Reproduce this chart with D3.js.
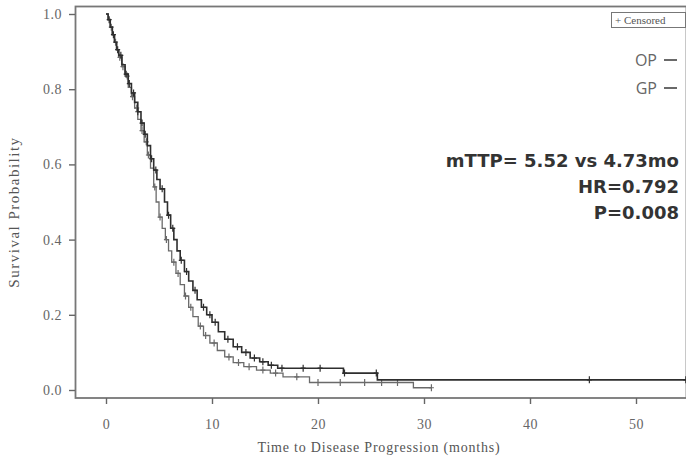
<!DOCTYPE html>
<html>
<head>
<meta charset="utf-8">
<script src="https://cdn.jsdelivr.net/npm/d3@7"></script>
<style>
  body { margin: 0; background: #fff; }
  svg { display: block; }
</style>
</head>
<body>
<svg id="chart" width="686" height="459"></svg>
<script>
// Kaplan-Meier steps: [time in months, survival after the drop]
const opSteps = [
  [0, 1.0], [0.2, 0.985], [0.4, 0.965], [0.6, 0.945], [0.8, 0.925], [1.0, 0.905],
  [1.2, 0.89], [1.5, 0.865], [1.8, 0.84], [2.1, 0.815], [2.4, 0.79], [2.7, 0.765],
  [3.0, 0.74], [3.3, 0.71], [3.6, 0.68], [3.9, 0.65], [4.2, 0.615], [4.5, 0.585],
  [4.8, 0.56], [5.1, 0.535], [5.52, 0.50], [5.8, 0.465], [6.1, 0.43], [6.4, 0.40],
  [6.7, 0.37], [7.0, 0.345], [7.4, 0.315], [7.8, 0.29], [8.2, 0.265], [8.6, 0.24],
  [9.0, 0.22], [9.5, 0.20], [10.0, 0.18], [10.6, 0.155], [11.2, 0.135],
  [12.0, 0.115], [12.8, 0.10], [13.6, 0.085], [14.5, 0.075], [15.3, 0.066],
  [16.2, 0.058], [22.4, 0.045], [25.6, 0.027]
];
const gpSteps = [
  [0, 1.0], [0.2, 0.985], [0.4, 0.965], [0.6, 0.945], [0.8, 0.925], [1.0, 0.905],
  [1.2, 0.885], [1.5, 0.86], [1.8, 0.835], [2.1, 0.805], [2.4, 0.78], [2.7, 0.75],
  [3.0, 0.72], [3.3, 0.69], [3.6, 0.66], [3.9, 0.625], [4.2, 0.59], [4.5, 0.54],
  [4.73, 0.50], [5.0, 0.46], [5.3, 0.43], [5.6, 0.40], [5.9, 0.37], [6.2, 0.34],
  [6.6, 0.31], [7.0, 0.28], [7.4, 0.25], [7.8, 0.22], [8.2, 0.195], [8.7, 0.17],
  [9.2, 0.145], [9.8, 0.125], [10.5, 0.105], [11.2, 0.088], [12.0, 0.073],
  [13.0, 0.062], [14.2, 0.053], [15.5, 0.045], [16.7, 0.035], [19.2, 0.02],
  [29.0, 0.006]
];
const opEnd = 54.7, gpEnd = 30.7;
const opCensored = [0.3, 0.7, 1.1, 1.4, 1.9, 2.2, 2.6, 3.0, 3.4, 3.7, 4.3, 4.7,
  5.3, 5.9, 6.3, 7.1, 7.6, 8.4, 9.2, 9.8, 10.3, 11.5, 12.4, 13.2, 14.0, 14.8,
  15.6, 16.6, 18.6, 20.2, 22.5, 25.5, 45.6, 54.7];
const gpCensored = [0.5, 0.9, 1.3, 1.6, 2.0, 2.5, 2.9, 3.4, 3.8, 4.0, 4.6, 5.1,
  5.7, 6.4, 6.8, 7.5, 8.0, 8.9, 9.4, 10.2, 11.6, 12.5, 13.5, 14.8, 16.0, 18.0,
  20.0, 22.1, 24.4, 26.0, 27.5, 30.7];
const xTicks = [0, 10, 20, 30, 40, 50];
const yTicks = [0, 0.2, 0.4, 0.6, 0.8, 1.0];
const statLines = ["mTTP= 5.52 vs 4.73mo", "HR=0.792", "P=0.008"];

const svg = d3.select("#chart");
const x = d3.scaleLinear().domain([0, 50]).range([106, 636]);
const y = d3.scaleLinear().domain([0, 1]).range([390, 14]);

// frame
svg.append("rect")
  .attr("x", 75.5).attr("y", 6.5).attr("width", 611).attr("height", 391.5)
  .attr("fill", "none").attr("stroke", "#777").attr("stroke-width", 1.8);

// axes
const serif = "'Liberation Serif', 'DejaVu Serif', serif";
const xAxis = svg.append("g").attr("transform", "translate(0,398)")
  .call(d3.axisBottom(x).tickValues(xTicks).tickSize(6).tickPadding(15).tickFormat(d3.format("d")));
const yAxis = svg.append("g").attr("transform", "translate(75,0)")
  .call(d3.axisLeft(y).tickValues(yTicks).tickSize(6).tickPadding(7).tickFormat(d3.format(".1f")));
[xAxis, yAxis].forEach(g => {
  g.select(".domain").remove();
  g.selectAll("line").attr("stroke", "#666").attr("stroke-width", 1.4);
  g.selectAll("text").attr("fill", "#666").style("font-family", serif)
    .style("font-size", "14px").style("letter-spacing", "0.5px");
});

svg.append("text").attr("x", 379).attr("y", 452).attr("text-anchor", "middle")
  .style("font-family", serif).style("font-size", "14px").style("letter-spacing", "0.8px")
  .attr("fill", "#555")
  .text("Time to Disease Progression (months)");
svg.append("text").attr("transform", "translate(19,212) rotate(-90)")
  .attr("text-anchor", "middle")
  .style("font-family", serif).style("font-size", "15px").style("letter-spacing", "1.5px")
  .attr("fill", "#555")
  .text("Survival Probability");

// curves
const line = d3.line().x(d => x(d[0])).y(d => y(d[1])).curve(d3.curveStepAfter);
function survAt(steps, t) {
  const i = d3.bisector(d => d[0]).right(steps, t) - 1;
  return steps[Math.max(0, i)][1];
}
function drawArm(steps, end, censored, color, width) {
  const pts = steps.concat([[end, steps[steps.length - 1][1]]]);
  svg.append("path").datum(pts).attr("d", line)
    .attr("fill", "none").attr("stroke", color).attr("stroke-width", width);
  svg.append("g").selectAll("path").data(censored).join("path")
    .attr("d", t => {
      const cx = x(t), cy = y(survAt(steps, t));
      return `M${cx - 2.5},${cy}H${cx + 2.5}M${cx},${cy - 3.5}V${cy + 3.5}`;
    })
    .attr("stroke", color).attr("stroke-width", 1.2);
}
drawArm(gpSteps, gpEnd, gpCensored, "#6a6a6a", 1.3);
drawArm(opSteps, opEnd, opCensored, "#2e2e2e", 1.6);

// legend box
svg.append("rect").attr("x", 611.5).attr("y", 12.5).attr("width", 74).attr("height", 15)
  .attr("fill", "#fff").attr("stroke", "#777").attr("stroke-width", 1);
svg.append("text").attr("x", 615).attr("y", 24)
  .style("font-family", serif).style("font-size", "11px").attr("fill", "#555")
  .text("+ Censored");

const sans = "'Open Sans', 'Noto Sans', sans-serif";
[["OP", 66], ["GP", 94]].forEach(([lab, ty]) => {
  svg.append("text").attr("x", 657).attr("y", ty).attr("text-anchor", "end")
    .style("font-family", sans).style("font-size", "16px").attr("fill", "#666").text(lab);
  svg.append("line").attr("x1", 664).attr("x2", 677).attr("y1", ty - 6).attr("y2", ty - 6)
    .attr("stroke", "#444").attr("stroke-width", 1.6);
});

svg.append("g").selectAll("text").data(statLines).join("text")
  .attr("x", 679).attr("y", (d, i) => 167 + i * 26).attr("text-anchor", "end")
  .style("font-family", "'DejaVu Sans', sans-serif").style("font-weight", "700")
  .style("font-size", "18px").attr("fill", "#333").text(d => d);
</script>
</body>
</html>
